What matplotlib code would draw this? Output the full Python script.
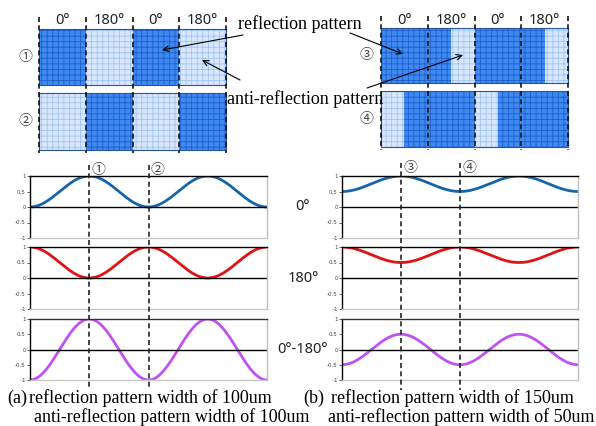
import numpy as np
import matplotlib
matplotlib.use('Agg')
import matplotlib.pyplot as plt
from matplotlib.patches import Rectangle

# %%
# data

# pattern rows: (start, end, kind) in um, kind 1 = reflection, 0 = anti-reflection
rows_a = [
    [(0, 100, 1), (100, 200, 0), (200, 300, 1), (300, 400, 0)],
    [(0, 100, 0), (100, 200, 1), (200, 300, 0), (300, 400, 1)],
]
rows_b = [
    [(0, 150, 1), (150, 200, 0), (200, 350, 1), (350, 400, 0)],
    [(0, 50, 0), (50, 200, 1), (200, 250, 0), (250, 400, 1)],
]
col_edges = [0, 100, 200, 300, 400]
col_labels = ['0°', '180°', '0°', '180°']
row_marks_a = ['①', '②']
row_marks_b = ['③', '④']

# 0° signal: low / high level, 180° is shifted half a period
lev_a = (0.0, 1.0)
lev_b = (0.5, 1.0)
t_mark = [0.5, 1.0]       # where the dashed lines cross the plots (periods)
row_names = ['0°', '180°', '0°-180°']
yticks = [1, 0.5, 0, -0.5, -1]
ytick_labels = ['1', '0.5', '0', '-0.5', '-1']

cap_a = ['(a)', 'reflection pattern width of 100um', 'anti-reflection pattern width of 100um']
cap_b = ['(b)', 'reflection pattern width of 150um', 'anti-reflection pattern width of 50um']

# %%
# style
W, H = 596, 426
dark = '#3f89f0'
dark_grid = '#1e5fcc'
light = '#d9e7fc'
light_grid = '#a2c4f4'
edge = '#24559e'
c_line = ['#1565a8', '#e01212', '#c052f2']
serif = {'family': 'Liberation Serif', 'fontsize': 13}
sans = {'family': ['Noto Sans', 'DejaVu Sans'], 'fontsize': 10.5, 'color': '#222222'}
circ = {'family': ['Noto Sans CJK JP', 'DejaVu Sans'], 'fontsize': 10, 'color': '#444444'}
plt.rcParams['hatch.linewidth'] = 0.6

fig = plt.figure(figsize=(W / 100, H / 100), dpi=100)


def fbox(x0, y0, x1, y1):
    return [x0 / W, 1 - y1 / H, (x1 - x0) / W, (y1 - y0) / H]


ax0 = fig.add_axes([0, 0, 1, 1], zorder=5)
ax0.set_xlim(0, W)
ax0.set_ylim(H, 0)
ax0.axis('off')
ax0.patch.set_alpha(0)

# %%
# patterns


def draw_pattern(rows, x0, x1, ys, marks, mark_x, dash_y):
    sc = (x1 - x0) / col_edges[-1]
    for row, (ya, yb), m in zip(rows, ys, marks):
        for a, b, k in row:
            xa, xb = x0 + a * sc, x0 + b * sc
            fc, gc = (dark, dark_grid) if k else (light, light_grid)
            ax0.add_patch(Rectangle((xa, ya), xb - xa, yb - ya, facecolor=fc, lw=0))
            ax0.add_patch(Rectangle((xa, ya), xb - xa, yb - ya, facecolor='none',
                                    edgecolor=gc, hatch='+++', lw=0))
        ax0.add_patch(Rectangle((x0, ya), x1 - x0, yb - ya, facecolor='none',
                                edgecolor=edge, lw=0.8))
        ax0.text(mark_x, (ya + yb) / 2, m, ha='center', va='center', **circ)
    for e in col_edges:
        xe = x0 + e * sc
        ax0.plot([xe, xe], dash_y, color='#111111', lw=1.2, ls=(0, (3, 2)))
    for i, lab in enumerate(col_labels):
        xc = x0 + (col_edges[i] + col_edges[i + 1]) / 2 * sc
        ax0.text(xc, dash_y[0] + 4, lab, ha='center', va='center', **sans)


draw_pattern(rows_a, 39, 226, [(29, 85), (93, 150)], row_marks_a, 25, (17, 153))
draw_pattern(rows_b, 381, 568, [(28, 83), (91, 147)], row_marks_b, 366, (16, 150))

# annotations
ax0.text(300, 24, 'reflection pattern', ha='center', va='center', **serif)
ax0.text(305, 99, 'anti-reflection pattern', ha='center', va='center', **serif)
arr = dict(arrowstyle='->', color='black', lw=0.8, shrinkA=0, shrinkB=0)
ax0.annotate('', xy=(162, 50), xytext=(243, 35), arrowprops=arr)
ax0.annotate('', xy=(403, 54), xytext=(350, 33), arrowprops=arr)
ax0.annotate('', xy=(202, 60), xytext=(240, 80), arrowprops=arr)
ax0.annotate('', xy=(463, 55), xytext=(367, 88), arrowprops=arr)

# %%
# signal plots
t = np.linspace(0, 2, 500)
row_y = [(176, 238), (247, 309), (319, 380)]
panels = [((30, 267), lev_a, row_marks_a, (165, 389)),
          ((342, 578), lev_b, row_marks_b, (163, 390))]

for (xa, xb), (lo, hi), marks, dy in panels:
    mid, amp = (lo + hi) / 2, (hi - lo) / 2
    s0 = mid - amp * np.cos(2 * np.pi * t)
    s180 = mid + amp * np.cos(2 * np.pi * t)
    sigs = [s0, s180, s0 - s180]
    for i, ((ya, yb), s) in enumerate(zip(row_y, sigs)):
        ax = fig.add_axes(fbox(xa, ya, xb, yb))
        ax.plot(t, s, color=c_line[i], lw=2)
        ax.axhline(0, color='black', lw=1)
        ax.set_xlim(0, 2)
        ax.set_ylim(-1, 1)
        ax.set_xticks([])
        ax.set_yticks(yticks)
        ax.set_yticklabels(ytick_labels)
        ax.tick_params(axis='y', length=2, width=0.6, labelsize=4, pad=1, colors='#444444')
        ax.spines['left'].set_color('black')
        ax.spines['top'].set_color('black' if i < 2 else '#333333')
        ax.spines['right'].set_color('#c0c0c0')
        ax.spines['bottom'].set_color('#c8c8c8')
        for sp in ax.spines.values():
            sp.set_linewidth(1)
        ax.patch.set_alpha(0)
        if i == 0:
            top_ax = ax
    # dashed markers through all three plots
    for tm, m in zip(t_mark, marks):
        px = top_ax.transData.transform((tm, 0))[0]
        ax0.plot([px, px], dy, color='#222222', lw=1.2, ls=(0, (3, 2)))
        ax0.text(px + 9, dy[0] + 5, m, ha='center', va='center', **circ)

for (ya, yb), name in zip(row_y, row_names):
    ax0.text(303, (ya + yb) / 2, name, ha='center', va='center', **sans)

# captions
for x_tag, x_l1, x_l2, cap in [(7, 29, 34, cap_a), (303, 331, 328, cap_b)]:
    ax0.text(x_tag, 398, cap[0], ha='left', va='center', **serif)
    ax0.text(x_l1, 398, cap[1], ha='left', va='center', **serif)
    ax0.text(x_l2, 417, cap[2], ha='left', va='center', **serif)

fig.savefig('out.png', dpi=100)
